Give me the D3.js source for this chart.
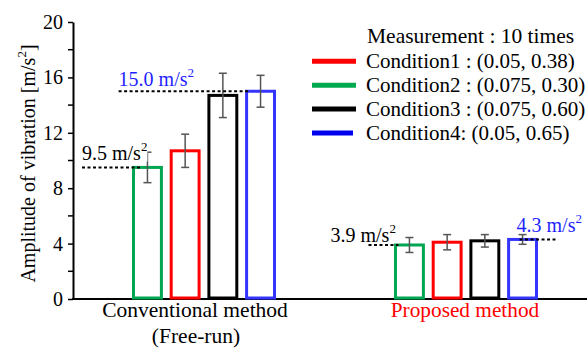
<!DOCTYPE html>
<html>
<head>
<meta charset="utf-8">
<script src="https://cdn.jsdelivr.net/npm/d3@7"></script>
<style>
  body { margin: 0; background: #fff; }
  svg text { font-family: "Liberation Serif", "Times New Roman", serif; }
</style>
</head>
<body>
<div id="chart"></div>
<script>
const categories = ['Conventional method', 'Proposed method'];
const series = ['Condition2', 'Condition1', 'Condition3', 'Condition4']; // bar order
const legendSeries = ['Condition1', 'Condition2', 'Condition3', 'Condition4'];
const legendLabels = ['Condition1 : (0.05, 0.38)', 'Condition2 : (0.075, 0.30)', 'Condition3 : (0.075, 0.60)', 'Condition4: (0.05, 0.65)'];
const conventional = { Condition1: 10.7, Condition2: 9.5, Condition3: 14.7, Condition4: 15.0 };
const proposed = { Condition1: 4.1, Condition2: 3.9, Condition3: 4.2, Condition4: 4.3 };
const conventionalErr = { Condition1: 1.2, Condition2: 1.1, Condition3: 1.6, Condition4: 1.15 };
const proposedErr = { Condition1: 0.55, Condition2: 0.54, Condition3: 0.45, Condition4: 0.35 };
const yTicks = [0, 4, 8, 12, 16, 20];
const yMinorTicks = [2, 6, 10, 14, 18];

const colors = { Condition1: '#ff0000', Condition2: '#00a651', Condition3: '#000000', Condition4: '#3434ff' };
const legendColors = { Condition1: '#ff0000', Condition2: '#00a84f', Condition3: '#000000', Condition4: '#0000ee' };
const FONT = '"Liberation Serif", "Times New Roman", serif';

const rows = [];
categories.forEach((c, i) => {
  const vals = i === 0 ? conventional : proposed;
  const errs = i === 0 ? conventionalErr : proposedErr;
  series.forEach(s => rows.push({ cat: c, s: s, v: vals[s], e: errs[s] }));
});

const W = 587, H = 349;
const mLeft = 73, mBottom = 299, mTop = 22;

const svg = d3.select('#chart').append('svg')
  .attr('width', W).attr('height', H)
  .attr('font-family', FONT);

const x = d3.scaleBand().domain(categories).range([mLeft, 597]).padding(0);
const xi = d3.scaleBand().domain(series)
  .range([x.bandwidth() / 2 - 75.4, x.bandwidth() / 2 + 75.4])
  .paddingInner(0.26).paddingOuter(0.13);
const y = d3.scaleLinear().domain([0, 20]).range([mBottom, mTop]);

const barX = d => x(d.cat) + xi(d.s);
const barC = d => barX(d) + xi.bandwidth() / 2;

// y axis
const yAxis = svg.append('g').attr('transform', 'translate(' + mLeft + ',0)')
  .call(d3.axisLeft(y).tickValues(yTicks).tickSize(5).tickPadding(5).tickSizeOuter(0));
yAxis.attr('font-family', FONT).attr('font-size', 20);
yAxis.select('.domain').attr('stroke-width', 2);
yAxis.selectAll('.tick line').attr('stroke-width', 1.5);
yAxis.selectAll('.tick text').attr('fill', '#000');
yAxis.selectAll('.minor').data(yMinorTicks).enter().append('line')
  .attr('x1', -5).attr('x2', 0)
  .attr('y1', d => y(d)).attr('y2', d => y(d))
  .attr('stroke', '#000').attr('stroke-width', 1.5);

// x axis line
svg.append('line')
  .attr('x1', mLeft - 1).attr('x2', W)
  .attr('y1', y(0)).attr('y2', y(0))
  .attr('stroke', '#000').attr('stroke-width', 2);

// bars
svg.selectAll('.bar').data(rows).enter().append('rect')
  .attr('x', barX)
  .attr('width', xi.bandwidth())
  .attr('y', d => y(d.v))
  .attr('height', d => y(0) - y(d.v) - 1)
  .attr('fill', '#fff')
  .attr('stroke', d => colors[d.s])
  .attr('stroke-width', 3);

// error bars
const eb = svg.selectAll('.err').data(rows).enter().append('g').attr('stroke', '#555').attr('stroke-width', 1.5);
eb.append('line').attr('x1', barC).attr('x2', barC)
  .attr('y1', d => y(d.v + d.e)).attr('y2', d => y(d.v - d.e));
eb.append('line').attr('x1', d => barC(d) - 4).attr('x2', d => barC(d) + 4)
  .attr('y1', d => y(d.v + d.e)).attr('y2', d => y(d.v + d.e));
eb.append('line').attr('x1', d => barC(d) - 4).attr('x2', d => barC(d) + 4)
  .attr('y1', d => y(d.v - d.e)).attr('y2', d => y(d.v - d.e));

// annotations
const find = (c, s) => rows.find(r => r.cat === c && r.s === s);
function label(xp, yp, txt, color, bg) {
  const g = svg.append('g');
  const t = g.append('text').attr('x', xp).attr('y', yp)
    .attr('fill', color).attr('font-size', 20);
  t.append('tspan').text(txt + ' m/s');
  t.append('tspan').text('2').attr('dy', -9).attr('font-size', 13);
  if (bg) {
    const b = t.node().getBBox();
    g.insert('rect', 'text').attr('x', b.x).attr('y', b.y)
      .attr('width', b.width).attr('height', b.height - 3).attr('fill', '#fff');
  }
}
function dash(x1, x2, yv) {
  svg.append('line').attr('x1', x1).attr('x2', x2)
    .attr('y1', y(yv)).attr('y2', y(yv))
    .attr('stroke', '#000').attr('stroke-width', 2).attr('stroke-dasharray', '3,2.5');
}
const c2 = find(categories[0], 'Condition2');
const c4 = find(categories[0], 'Condition4');
const p2 = find(categories[1], 'Condition2');
const p4 = find(categories[1], 'Condition4');

label(mLeft + 9, y(c2.v) - 7, c2.v.toFixed(1), '#000', true);
dash(mLeft + 9, barC(c2) - 5, c2.v);
dash(barX(c4) - 128, barX(c4) + 2, c4.v);
label(barX(c4) - 128, y(c4.v) - 5, c4.v.toFixed(1), '#1f1fff', false);
dash(barX(p2) - 27, barX(p2) + 3, p2.v);
label(barX(p2) - 65, y(p2.v) - 3, p2.v.toFixed(1), '#000', false);
dash(barC(p4) - 3, barX(p4) + xi.bandwidth() + 19, p4.v);
label(barC(p4) - 6, y(p4.v) - 7, p4.v.toFixed(1), '#1f1fff', false);

// category labels
svg.append('text').attr('x', x(categories[0]) + x.bandwidth() / 2 - 9).attr('y', 317)
  .attr('text-anchor', 'middle').attr('font-size', 21.5).text(categories[0]);
svg.append('text').attr('x', x(categories[0]) + x.bandwidth() / 2 - 8).attr('y', 343)
  .attr('text-anchor', 'middle').attr('font-size', 21.5).text('(Free-run)');
svg.append('text').attr('x', x(categories[1]) + x.bandwidth() / 2 - 1).attr('y', 317)
  .attr('text-anchor', 'middle').attr('font-size', 21.3).attr('fill', '#ff0000').text(categories[1]);

// y label
const yl = svg.append('text').attr('transform', 'translate(35,' + ((mTop + mBottom) / 2 + 3) + ') rotate(-90)')
  .attr('text-anchor', 'middle').attr('font-size', 20);
yl.append('tspan').text('Amplitude of vibration [m/s');
yl.append('tspan').text('2').attr('dy', -9).attr('font-size', 13);
yl.append('tspan').text(']').attr('dy', 9);

// legend
const lg = svg.append('g');
lg.append('text').attr('x', 367).attr('y', 42.5).attr('font-size', 21.5).text('Measurement : 10 times');
legendSeries.forEach((s, i) => {
  const yy = 68.3 + i * 23.9;
  lg.append('line').attr('x1', 312).attr('x2', i === 3 ? 353 : 356)
    .attr('y1', yy - 7).attr('y2', yy - 7)
    .attr('stroke', legendColors[s]).attr('stroke-width', 5);
  lg.append('text').attr('x', 366).attr('y', yy).attr('font-size', 21).text(legendLabels[i]);
});
</script>
</body>
</html>
